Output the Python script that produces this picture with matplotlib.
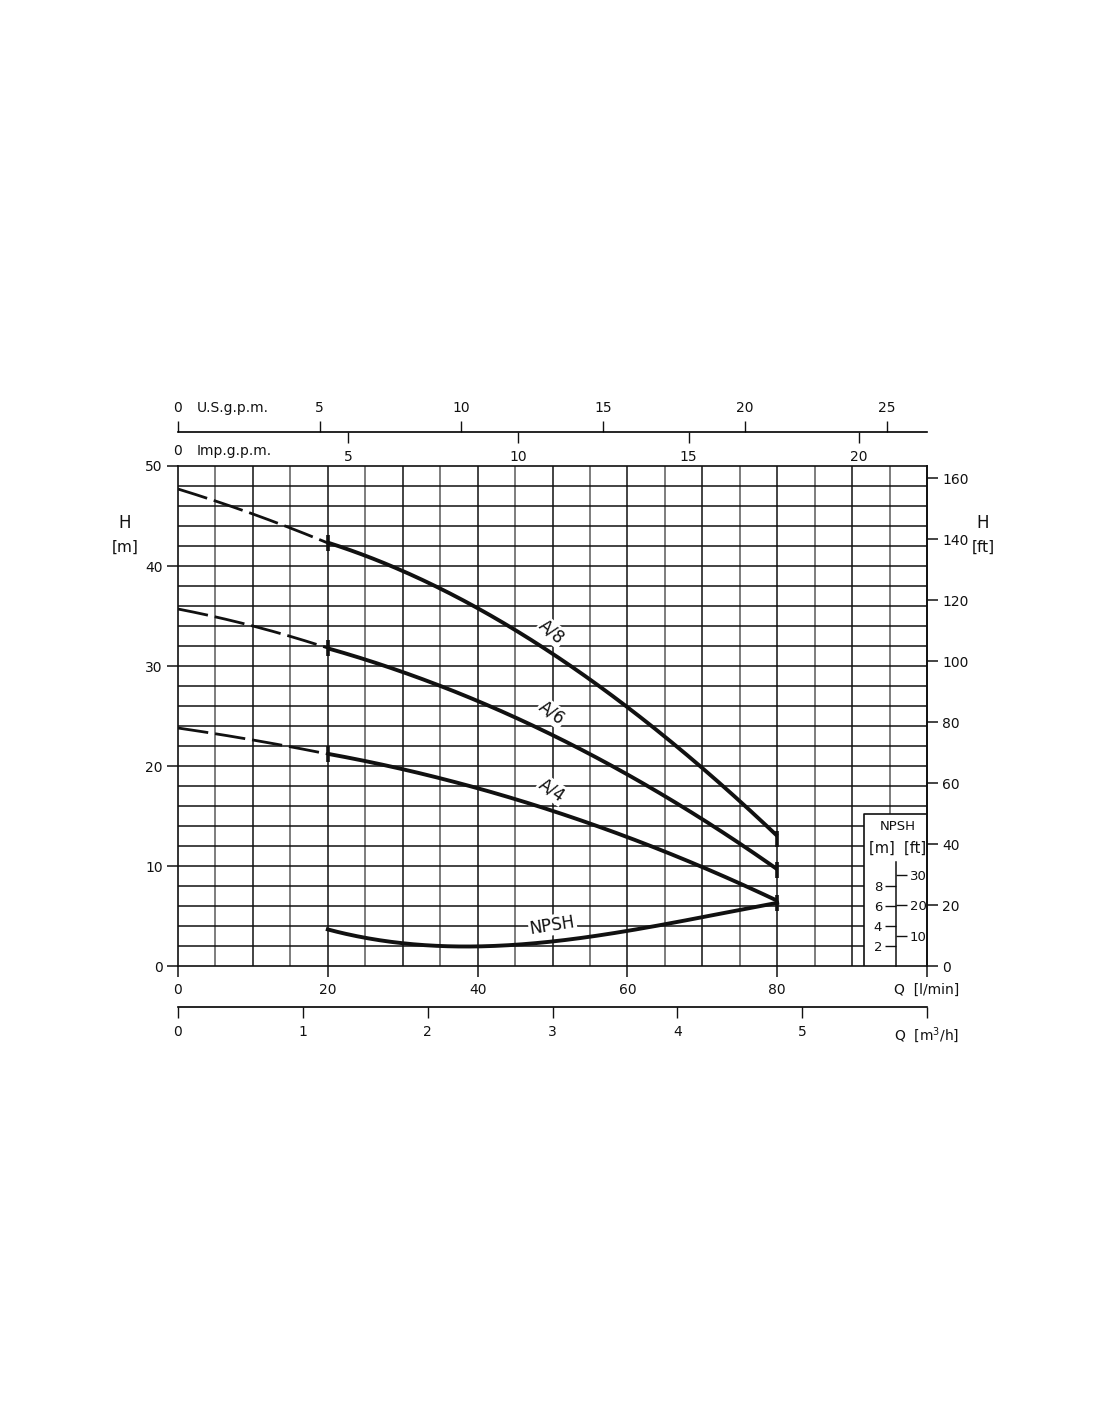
import matplotlib
matplotlib.use("Agg")
import matplotlib.pyplot as plt
import numpy as np

plt.rcParams['font.family'] = ['DejaVu Sans']
plt.rcParams['font.size'] = 10

# ---------------- data (Q in l/min, H in m) ----------------
q_dash = [0, 10, 20]
a8_dash = [47.7, 45.2, 42.3]
a6_dash = [35.7, 34.0, 31.8]
a4_dash = [23.8, 22.6, 21.2]

q_curve = [20, 25, 30, 35, 40, 45, 50, 55, 60, 65, 70, 75, 80]
a8 = [42.3, 41.0, 39.6, 37.8, 35.8, 33.6, 31.1, 28.6, 25.9, 22.9, 19.9, 16.6, 12.9]
a6 = [31.8, 30.6, 29.4, 28.1, 26.4, 24.8, 23.0, 21.4, 19.3, 16.9, 14.6, 12.1, 9.8]
a4 = [21.2, 20.5, 19.7, 18.8, 17.8, 16.6, 15.5, 14.3, 12.9, 11.4, 9.9, 8.3, 6.5]
npsh = [3.6, 2.9, 2.3, 2.0, 1.9, 2.1, 2.5, 2.9, 3.5, 4.2, 4.9, 5.6, 6.3]

curve_names = ["A/8", "A/6", "A/4"]

h_m_ticks = [0, 10, 20, 30, 40, 50]
h_ft_ticks = [0, 20, 40, 60, 80, 100, 120, 140, 160]
q_lmin_ticks = [0, 20, 40, 60, 80, 100]
q_lmin_labels = ["0", "20", "40", "60", "80", "Q  [l/min]"]
q_m3h_ticks = [0, 1, 2, 3, 4, 5, 6]
q_m3h_labels = ["0", "1", "2", "3", "4", "5", "Q  [m$^{3}$/h]"]
us_ticks = [0, 5, 10, 15, 20, 25]
imp_ticks = [5, 10, 15, 20]
npsh_m_ticks = [2, 4, 6, 8]
npsh_ft_ticks = [10, 20, 30]

LMIN_PER_USGPM = 3.785
LMIN_PER_IMPGPM = 4.546
FT_PER_M = 3.2808

# ---------------- layout ----------------
W_PX, H_PX = 1100, 1422
fig = plt.figure(figsize=(W_PX / 100, H_PX / 100), dpi=100)

def fx(px):
    return px / W_PX

def fy(py):
    return 1 - py / H_PX

x0, x1 = 178, 927
y_top, y_bot = 466, 966
L, B, W, Hh = fx(x0), fy(y_bot), fx(x1) - fx(x0), fy(y_top) - fy(y_bot)

ax = fig.add_axes([L, B, W, Hh])
ax.set_xlim(0, 100)
ax.set_ylim(0, 50)

black = "#111111"
grey = "#5a5a5a"
box_left, box_top = 91.6, 15.2

# grid
for q in range(5, 100, 5):
    c = black if q % 10 == 0 else grey
    lo = box_top if q > box_left else 0
    ax.vlines(q, lo, 50, color=c, lw=1.1, zorder=1)
for h in range(2, 50, 2):
    right = 100 if h > box_top else box_left
    ax.hlines(h, 0, right, color=black, lw=1.1, zorder=1)

# NPSH box
ax.plot([box_left, box_left, 100], [0, box_top, box_top], color=black, lw=1.2, zorder=2)

for sp in ax.spines.values():
    sp.set_color(black)
    sp.set_linewidth(1.2)

ax.set_yticks(h_m_ticks)
ax.tick_params(axis='y', direction='out', length=8, width=1.1, pad=3, colors=black)
ax.set_xticks(q_lmin_ticks)
ax.set_xticklabels(q_lmin_labels)
ax.tick_params(axis='x', direction='out', length=8, width=1.1, pad=4, colors=black)

# right axis in ft
secy = ax.secondary_yaxis('right', functions=(lambda m: m * FT_PER_M, lambda f: f / FT_PER_M))
secy.set_yticks(h_ft_ticks)
secy.tick_params(direction='out', length=8, width=1.1, pad=3, colors=black)
secy.spines['right'].set_linewidth(1.2)

# smooth drawing of the read values
def smooth(xs, ys, deg):
    c = np.polyfit(xs, ys, deg)
    xx = np.linspace(xs[0], xs[-1], 200)
    return xx, np.polyval(c, xx)

lw_c = 2.8
for hd, hc in [(a8_dash, a8), (a6_dash, a6), (a4_dash, a4)]:
    xd, yd = smooth(q_dash, hd, 2)
    ax.plot(xd, yd, color=black, lw=2.0, dashes=(11, 2.5), zorder=4)
    xs, ys = smooth(q_curve, hc, 3)
    ax.plot(xs, ys, color=black, lw=lw_c, zorder=4, solid_capstyle='butt')
    ax.plot([q_curve[0], q_curve[-1]], [hc[0], hc[-1] - 0.2], ls='none', marker='|',
            ms=12, mew=2.6, color=black, zorder=5)
xs, ys = smooth(q_curve, npsh, 3)
ax.plot(xs, ys, color=black, lw=lw_c, zorder=4)

# curve labels
lab_kw = dict(ha='center', va='center', fontsize=12, color=black, zorder=3,
              bbox=dict(facecolor='white', edgecolor='none', pad=1.0))
ax.text(49.9, 33.4, "A/8", rotation=-40, **lab_kw)
ax.text(49.9, 25.3, "A/6", rotation=-36, **lab_kw)
ax.text(49.9, 17.6, "A/4", rotation=-34, **lab_kw)
ax.text(50.0, 4.1, "NPSH", rotation=9, **lab_kw)

# axis titles H
fig.text(fx(125), fy(523), "H", ha='center', va='center', fontsize=12, color=black)
fig.text(fx(125), fy(547), "[m]", ha='center', va='center', fontsize=11, color=black)
fig.text(fx(983), fy(523), "H", ha='center', va='center', fontsize=12, color=black)
fig.text(fx(983), fy(547), "[ft]", ha='center', va='center', fontsize=11, color=black)

# NPSH box text
fig.text(fx(898), fy(827), "NPSH", ha='center', va='center', fontsize=9.5, color=black)
fig.text(fx(898), fy(848), "[m]  [ft]", ha='center', va='center', fontsize=10.5, color=black)

# NPSH inner scale
axn = fig.add_axes([fx(896), B, 0.00001, fy(862) - fy(966)])
axn.set_ylim(0, 10.4)
axn.patch.set_visible(False)
for k in ['top', 'bottom', 'right']:
    axn.spines[k].set_visible(False)
axn.spines['left'].set_linewidth(1.1)
axn.spines['left'].set_color(black)
axn.set_xticks([])
axn.set_yticks(npsh_m_ticks)
axn.tick_params(axis='y', direction='out', length=8, width=1.0, pad=2, labelsize=9.5, colors=black)
secn = axn.secondary_yaxis('right', functions=(lambda m: m * FT_PER_M, lambda f: f / FT_PER_M))
secn.set_yticks(npsh_ft_ticks)
secn.spines['right'].set_visible(False)
secn.tick_params(direction='out', length=8, width=1.0, pad=2, labelsize=9.5, colors=black)

# top scales (US gpm above, Imp gpm below)
def flat_axis(ypx, xmax):
    a = fig.add_axes([L, fy(ypx), W, 0.00001])
    a.set_xlim(0, xmax)
    a.patch.set_visible(False)
    a.set_yticks([])
    for k in ['left', 'right']:
        a.spines[k].set_visible(False)
    return a

axus = flat_axis(432, 100 / LMIN_PER_USGPM)
axus.spines['bottom'].set_visible(False)
axus.spines['top'].set_linewidth(1.2)
axus.xaxis.tick_top()
axus.set_xticks(us_ticks)
axus.tick_params(axis='x', direction='out', length=8, width=1.0, pad=4, colors=black)
fig.text(fx(197), fy(408), "U.S.g.p.m.", ha='left', va='center', fontsize=10, color=black)

aximp = flat_axis(432, 100 / LMIN_PER_IMPGPM)
aximp.spines['top'].set_visible(False)
aximp.spines['bottom'].set_visible(False)
aximp.set_xticks(imp_ticks)
aximp.tick_params(axis='x', direction='out', length=8, width=1.0, pad=5, colors=black)
fig.text(fx(178), fy(451), "0", ha='center', va='center', fontsize=10, color=black)
fig.text(fx(197), fy(451), "Imp.g.p.m.", ha='left', va='center', fontsize=10, color=black)

# bottom m3/h scale
axm3 = flat_axis(1007, 6)
axm3.spines['top'].set_visible(False)
axm3.spines['bottom'].set_linewidth(1.2)
axm3.set_xticks(q_m3h_ticks)
axm3.set_xticklabels(q_m3h_labels)
axm3.tick_params(axis='x', direction='out', length=8, width=1.0, pad=5, colors=black)

fig.savefig("out.png", dpi=100, facecolor='white')
